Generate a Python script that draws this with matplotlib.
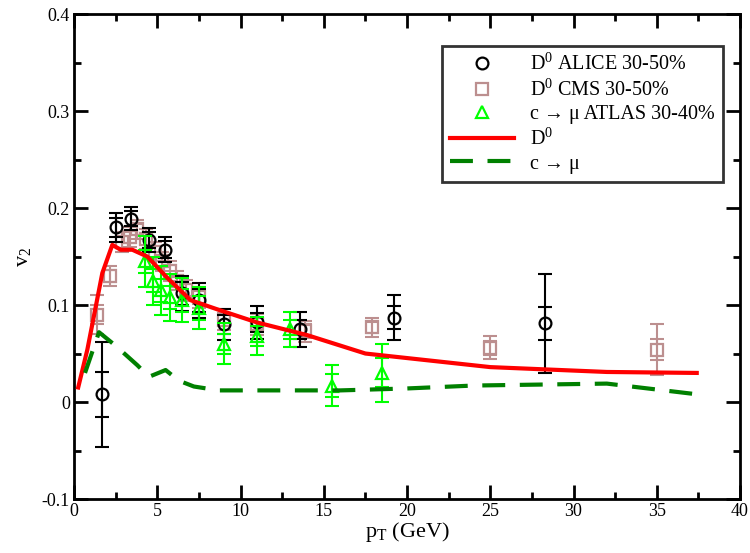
import matplotlib
matplotlib.use("Agg")
import matplotlib.pyplot as plt
from matplotlib.ticker import MultipleLocator
import numpy as np

plt.rcParams['font.family'] = ['Liberation Serif', 'DejaVu Serif']
plt.rcParams['mathtext.fontset'] = 'custom'
plt.rcParams['mathtext.rm'] = 'Liberation Serif'
plt.rcParams['mathtext.it'] = 'Liberation Serif:italic'

# ALICE D0 30-50%
alice_pt = [1.67, 2.5, 3.4, 4.5, 5.45, 6.5, 7.5, 9.0, 11.0, 13.6, 19.2, 28.3]
alice_v2 = [0.008, 0.180, 0.189, 0.167, 0.157, 0.112, 0.105, 0.080, 0.082, 0.075, 0.087, 0.081]
alice_stat = [0.023, 0.010, 0.008, 0.008, 0.009, 0.012, 0.012, 0.010, 0.010, 0.010, 0.012, 0.017]
alice_tot = [0.054, 0.015, 0.012, 0.012, 0.013, 0.018, 0.018, 0.016, 0.017, 0.018, 0.023, 0.051]

# CMS D0 30-50%
cms_pt = [1.4, 2.15, 2.9, 3.35, 3.8, 4.3, 4.85, 5.3, 5.75, 6.2, 6.75, 7.5, 9.0, 11.0, 13.9, 17.9, 25.0, 35.0]
cms_v2 = [0.090, 0.130, 0.165, 0.170, 0.178, 0.168, 0.155, 0.145, 0.135, 0.125, 0.115, 0.108, 0.085, 0.080, 0.073, 0.077, 0.056, 0.054]
cms_stat = [0.010, 0.006, 0.006, 0.006, 0.006, 0.006, 0.006, 0.006, 0.006, 0.006, 0.007, 0.007, 0.007, 0.007, 0.007, 0.006, 0.007, 0.011]
cms_tot = [0.020, 0.010, 0.010, 0.010, 0.010, 0.010, 0.010, 0.010, 0.010, 0.010, 0.011, 0.011, 0.011, 0.011, 0.011, 0.010, 0.012, 0.026]

# ATLAS c -> mu 30-40%
atlas_pt = [4.25, 4.75, 5.25, 5.75, 6.5, 7.5, 9.0, 11.0, 13.0, 15.5, 18.5]
atlas_v2 = [0.145, 0.125, 0.115, 0.108, 0.105, 0.097, 0.060, 0.068, 0.075, 0.017, 0.030]
atlas_stat = [0.012, 0.012, 0.012, 0.012, 0.012, 0.012, 0.010, 0.010, 0.010, 0.012, 0.015]
atlas_tot = [0.026, 0.025, 0.025, 0.024, 0.023, 0.022, 0.021, 0.020, 0.018, 0.021, 0.030]

# model curves
d0_pt = [0.25, 0.8, 1.7, 2.3, 2.8, 3.5, 4.4, 5.6, 7.0, 8.7, 11.0, 14.0, 17.5, 25.0, 32.0, 37.4]
d0_v2 = [0.015, 0.054, 0.133, 0.162, 0.157, 0.157, 0.150, 0.128, 0.105, 0.095, 0.082, 0.069, 0.050, 0.036, 0.031, 0.030]
mu_pt = [0.66, 1.5, 2.5, 3.8, 4.5, 5.5, 6.3, 7.2, 8.7, 12.0, 16.0, 20.0, 24.0, 28.0, 32.0, 37.4]
mu_v2 = [0.030, 0.072, 0.058, 0.038, 0.026, 0.033, 0.022, 0.016, 0.012, 0.012, 0.012, 0.014, 0.017, 0.018, 0.019, 0.008]

fig = plt.figure(figsize=(7.5, 5.53), dpi=100)
ax = fig.add_axes([0.0987, 0.0976, 0.888, 0.877])

def draw(pt, v, stat, tot, color, marker, label, z):
    ax.errorbar(pt, v, yerr=tot, fmt='none', ecolor=color, elinewidth=1.5,
                capsize=5, capthick=1.5, zorder=z)
    ax.errorbar(pt, v, yerr=stat, fmt='none', ecolor=color, elinewidth=1.5,
                capsize=5, capthick=1.5, zorder=z)
    ax.plot(pt, v, linestyle='none', marker=marker, markersize=8.5,
            markerfacecolor='none', markeredgecolor=color, markeredgewidth=1.6,
            label=label, zorder=z)

draw(cms_pt, cms_v2, cms_stat, cms_tot, '#bc8f8f', 's', r'$\mathrm{D}^0$ CMS 30-50%', 2)
draw(alice_pt, alice_v2, alice_stat, alice_tot, 'black', 'o', r'$\mathrm{D}^0$ ALICE 30-50%', 3)
draw(atlas_pt, atlas_v2, atlas_stat, atlas_tot, '#00ff00', '^', 'c → μ ATLAS 30-40%', 3)

ax.plot(d0_pt, d0_v2, color='#ff0000', linewidth=3, label=r'$\mathrm{D}^0$', zorder=4)
ax.plot(mu_pt, mu_v2, color='#008000', linewidth=3, dashes=(5.5, 3.5), label='c → μ', zorder=4)

ax.set_xlim(0, 40)
ax.set_ylim(-0.1, 0.4)
ax.xaxis.set_minor_locator(MultipleLocator(2.5))
ax.yaxis.set_minor_locator(MultipleLocator(0.05))
ax.set_xticks([0, 5, 10, 15, 20, 25, 30, 35, 40])
ax.set_xticklabels(['0', '5', '10', '15', '20', '25', '30', '35', '40'])
ax.set_yticks([-0.1, 0, 0.1, 0.2, 0.3, 0.4])
ax.set_yticklabels(['-0.1', '0', '0.1', '0.2', '0.3', '0.4'])
ax.tick_params(which='both', direction='in', top=True, right=True, width=2, labelsize=13, pad=3)
ax.tick_params(which='major', length=10)
ax.tick_params(which='minor', length=5)
for s in ax.spines.values():
    s.set_linewidth(2)

ax.set_xlabel(r'p$_\mathrm{T}$ (GeV)', fontsize=16, labelpad=0)
ax.set_ylabel(r'v$_2$', fontsize=16, labelpad=6)

h, l = ax.get_legend_handles_labels()
order = [1, 0, 2, 3, 4]
leg = ax.legend([h[i] for i in order], [l[i] for i in order], loc='upper right',
                bbox_to_anchor=(0.99, 0.955), fontsize=14.5, frameon=True, fancybox=False,
                edgecolor='black', handlelength=3.2, borderpad=0.4, labelspacing=0.22,
                handletextpad=0.8)
leg.get_frame().set_linewidth(2)

fig.savefig('out.png', dpi=100)
